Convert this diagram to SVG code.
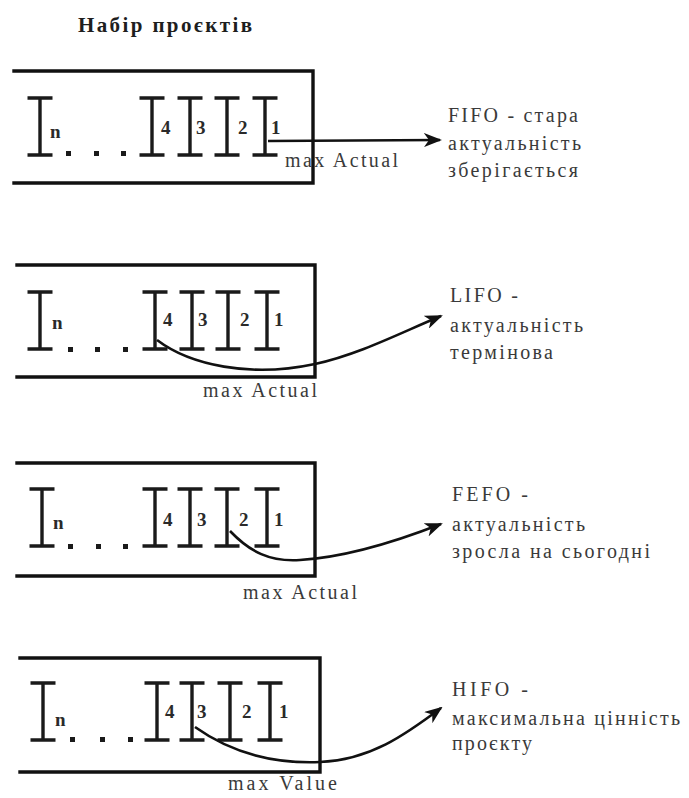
<svg xmlns="http://www.w3.org/2000/svg" width="689" height="798" viewBox="0 0 689 798">
<style>
  .box{fill:none;stroke:#111;stroke-width:3.4;stroke-linecap:square}
  .beam{fill:none;stroke:#1a1a1a;stroke-width:3.4}
  .dot{fill:#1a1a1a}
  .conn{fill:none;stroke:#111;stroke-width:2.6}
  .t{font-family:'Liberation Serif',serif}
</style>
<defs>
  <g id="ib">
    <path class="beam" d="M0,0 V57 M-12.5,0 H12.5 M-12.5,57 H12.5"/>
  </g>
  <marker id="ah" viewBox="0 0 18 14" refX="16" refY="7" markerWidth="18" markerHeight="14" markerUnits="userSpaceOnUse" orient="auto">
    <path d="M0,0 L18,7 L0,14 L5,7 z" fill="#111"/>
  </marker>
</defs>
<rect width="689" height="798" fill="#fff"/>

<g id="title" class="t" font-family="Liberation Serif, serif" font-size="21" font-weight="bold" fill="#1e1e1e">
  <text x="78" y="32" textLength="174" lengthAdjust="spacing">Набір проєктів</text>
</g>

<g id="panel-fifo" class="t" font-family="Liberation Serif, serif">
  <path class="box" d="M14,71 H313 V183 H14"/>
  <use href="#ib" x="40" y="98"/>
  <use href="#ib" x="152" y="98"/>
  <use href="#ib" x="190" y="98"/>
  <use href="#ib" x="227" y="98"/>
  <use href="#ib" x="265" y="98"/>
  <rect class="dot" x="66" y="151" width="5" height="5"/>
  <rect class="dot" x="94" y="151" width="5" height="5"/>
  <rect class="dot" x="121" y="151" width="5" height="5"/>
  <g font-size="19" font-weight="bold" fill="#2a2a2a">
    <text x="50" y="138">n</text>
    <text x="161" y="134">4</text>
    <text x="196" y="134">3</text>
    <text x="238" y="134">2</text>
    <text x="271" y="134">1</text>
  </g>
  <text x="285" y="167" font-size="20" fill="#3a3a3a" textLength="113" lengthAdjust="spacing">max Actual</text>
</g>

<g id="panel-lifo" class="t" font-family="Liberation Serif, serif">
  <path class="box" d="M17,265 H315 V377 H17"/>
  <use href="#ib" x="40" y="292"/>
  <use href="#ib" x="155" y="292"/>
  <use href="#ib" x="192" y="292"/>
  <use href="#ib" x="228" y="292"/>
  <use href="#ib" x="267" y="292"/>
  <rect class="dot" x="68" y="347" width="5" height="5"/>
  <rect class="dot" x="95" y="347" width="5" height="5"/>
  <rect class="dot" x="123" y="347" width="5" height="5"/>
  <g font-size="19" font-weight="bold" fill="#2a2a2a">
    <text x="52" y="329">n</text>
    <text x="163" y="326">4</text>
    <text x="198" y="326">3</text>
    <text x="240" y="326">2</text>
    <text x="274" y="326">1</text>
  </g>
  <text x="203" y="397" font-size="20" fill="#3a3a3a" textLength="114" lengthAdjust="spacing">max Actual</text>
</g>

<g id="panel-fefo" class="t" font-family="Liberation Serif, serif">
  <path class="box" d="M17,463 H315 V576 H17"/>
  <use href="#ib" x="42" y="489"/>
  <use href="#ib" x="155" y="489"/>
  <use href="#ib" x="190" y="489"/>
  <use href="#ib" x="227" y="489"/>
  <use href="#ib" x="267" y="489"/>
  <rect class="dot" x="68" y="544" width="5" height="5"/>
  <rect class="dot" x="96" y="544" width="5" height="5"/>
  <rect class="dot" x="123" y="544" width="5" height="5"/>
  <g font-size="19" font-weight="bold" fill="#2a2a2a">
    <text x="53" y="529">n</text>
    <text x="163" y="526">4</text>
    <text x="197" y="526">3</text>
    <text x="239" y="526">2</text>
    <text x="274" y="526">1</text>
  </g>
  <text x="243" y="599" font-size="20" fill="#3a3a3a" textLength="114" lengthAdjust="spacing">max Actual</text>
</g>

<g id="panel-hifo" class="t" font-family="Liberation Serif, serif">
  <path class="box" d="M20,658 H320 V772 H20"/>
  <use href="#ib" x="43" y="683"/>
  <use href="#ib" x="157" y="683"/>
  <use href="#ib" x="192" y="683"/>
  <use href="#ib" x="230" y="683"/>
  <use href="#ib" x="270" y="683"/>
  <rect class="dot" x="70" y="737" width="5" height="5"/>
  <rect class="dot" x="100" y="737" width="5" height="5"/>
  <rect class="dot" x="128" y="737" width="5" height="5"/>
  <g font-size="19" font-weight="bold" fill="#2a2a2a">
    <text x="55" y="726">n</text>
    <text x="165" y="718">4</text>
    <text x="197" y="718">3</text>
    <text x="242" y="718">2</text>
    <text x="279" y="718">1</text>
  </g>
  <text x="228" y="790" font-size="20" fill="#3a3a3a" textLength="109" lengthAdjust="spacing">max Value</text>
</g>

<g id="desc-fifo" class="t" font-family="Liberation Serif, serif" font-size="20" fill="#3a3a3a">
  <text x="448" y="122" textLength="130" lengthAdjust="spacing">FIFO - стара</text>
  <text x="448" y="150" textLength="133" lengthAdjust="spacing">актуальність</text>
  <text x="448" y="177" textLength="130" lengthAdjust="spacing">зберігається</text>
</g>
<g id="desc-lifo" class="t" font-family="Liberation Serif, serif" font-size="20" fill="#3a3a3a">
  <text x="450" y="302" textLength="68" lengthAdjust="spacing">LIFO -</text>
  <text x="450" y="332" textLength="133" lengthAdjust="spacing">актуальність</text>
  <text x="450" y="359" textLength="103" lengthAdjust="spacing">термінова</text>
</g>
<g id="desc-fefo" class="t" font-family="Liberation Serif, serif" font-size="20" fill="#3a3a3a">
  <text x="452" y="501" textLength="76" lengthAdjust="spacing">FEFO -</text>
  <text x="452" y="531" textLength="133" lengthAdjust="spacing">актуальність</text>
  <text x="452" y="558" textLength="198" lengthAdjust="spacing">зросла на сьогодні</text>
</g>
<g id="desc-hifo" class="t" font-family="Liberation Serif, serif" font-size="20" fill="#3a3a3a">
  <text x="452" y="696" textLength="76" lengthAdjust="spacing">HIFO -</text>
  <text x="452" y="725" textLength="228" lengthAdjust="spacing">максимальна цінність</text>
  <text x="452" y="750" textLength="80" lengthAdjust="spacing">проєкту</text>
</g>

<g id="connectors">
  <path class="conn" d="M268,141 L440,140" stroke-width="3" marker-end="url(#ah)"/>
  <path class="conn" d="M157,340 C190,365 250,378 315,364 C360,354 400,333 441,316" marker-end="url(#ah)"/>
  <path class="conn" d="M230,531 C250,552 270,562 300,560 C350,557 400,540 441,524" marker-end="url(#ah)"/>
  <path class="conn" d="M195,727 C230,752 270,764 320,762 C370,760 405,735 441,708" marker-end="url(#ah)"/>
</g>
</svg>
